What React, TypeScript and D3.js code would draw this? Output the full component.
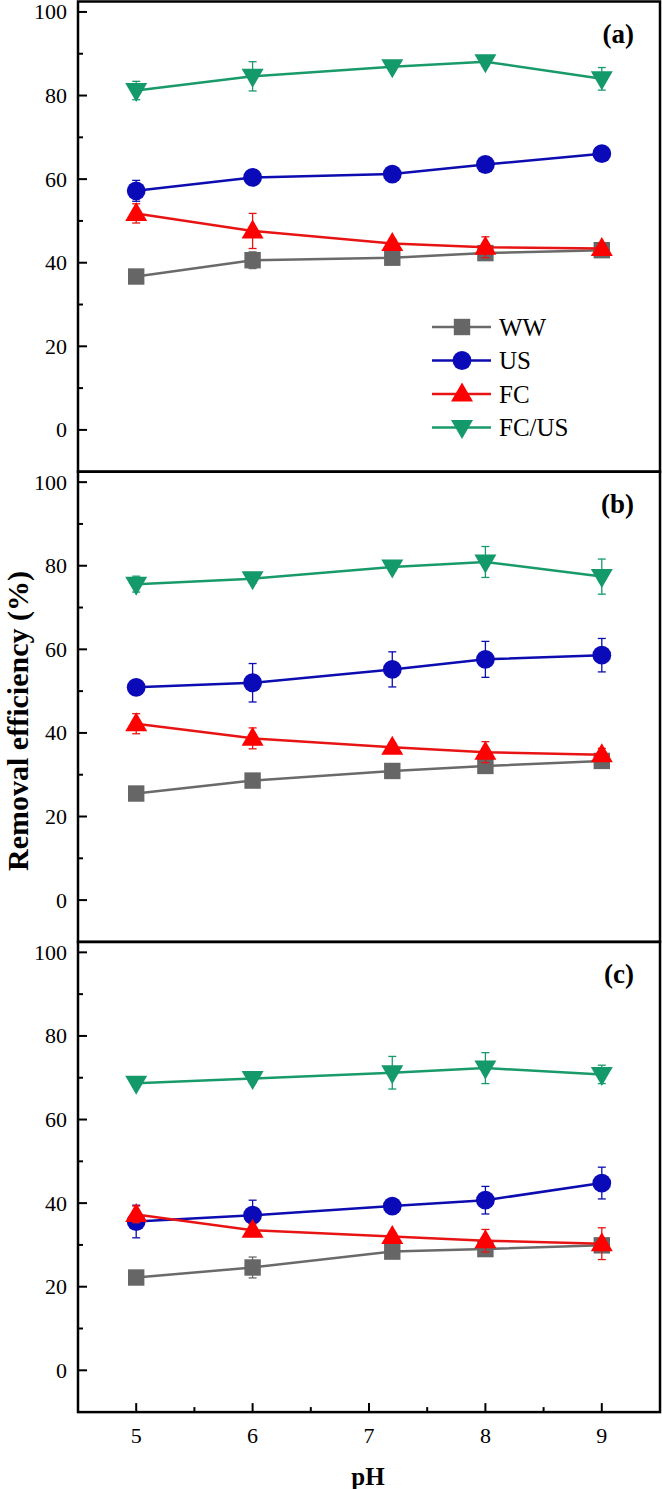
import React from "react";
import * as d3 from "d3";

const PH = [5, 6, 7.2, 8, 9];
const SERIES_NAMES = ["WW", "US", "FC", "FC/US"];
const PANEL_LABELS = ["(a)", "(b)", "(c)"];
const Y_TICKS = [0, 20, 40, 60, 80, 100];
const Y_MINOR = [10, 30, 50, 70, 90];
const X_TICKS = [5, 6, 7, 8, 9];
const X_MINOR = [5.5, 6.5, 7.5, 8.5];

// Panel (a)
const WW_A = [36.7, 40.6, 41.2, 42.3, 43.0];
const US_A = [57.2, 60.4, 61.2, 63.5, 66.1];
const FC_A = [51.8, 47.6, 44.6, 43.7, 43.4];
const FCUS_A = [81.2, 84.6, 86.9, 88.1, 84.0];
const WW_A_ERR = [1.0, 2.0, 1.0, 1.5, 1.0];
const US_A_ERR = [2.5, 1.0, 1.0, 1.0, 1.0];
const FC_A_ERR = [2.3, 4.2, 1.0, 2.5, 1.0];
const FCUS_A_ERR = [2.2, 3.5, 0.8, 1.0, 2.7];

// Panel (b)
const WW_B = [25.5, 28.6, 30.9, 32.1, 33.3];
const US_B = [50.9, 52.0, 55.2, 57.6, 58.6];
const FC_B = [42.2, 38.7, 36.6, 35.4, 34.8];
const FCUS_B = [75.6, 76.9, 79.7, 80.9, 77.4];
const WW_B_ERR = [1.0, 1.0, 1.0, 1.5, 1.0];
const US_B_ERR = [1.0, 4.6, 4.2, 4.3, 4.0];
const FC_B_ERR = [2.4, 2.5, 1.0, 2.5, 1.5];
const FCUS_B_ERR = [1.9, 1.0, 1.0, 3.7, 4.2];

// Panel (c)
const WW_C = [22.2, 24.6, 28.4, 29.0, 29.9];
const US_C = [35.6, 37.1, 39.3, 40.7, 44.8];
const FC_C = [37.3, 33.5, 32.0, 31.0, 30.3];
const FCUS_C = [68.7, 69.8, 71.2, 72.3, 70.8];
const WW_C_ERR = [1.0, 2.5, 1.0, 1.5, 1.0];
const US_C_ERR = [3.9, 3.6, 1.0, 3.3, 3.8];
const FC_C_ERR = [2.0, 1.5, 1.0, 2.7, 3.8];
const FCUS_C_ERR = [1.0, 1.0, 3.9, 3.7, 2.2];

const PANELS = [
  { vals: [WW_A, US_A, FC_A, FCUS_A], errs: [WW_A_ERR, US_A_ERR, FC_A_ERR, FCUS_A_ERR] },
  { vals: [WW_B, US_B, FC_B, FCUS_B], errs: [WW_B_ERR, US_B_ERR, FC_B_ERR, FCUS_B_ERR] },
  { vals: [WW_C, US_C, FC_C, FCUS_C], errs: [WW_C_ERR, US_C_ERR, FC_C_ERR, FCUS_C_ERR] },
];

const LINE_COLORS = ["#6a6a6a", "#0c0cb0", "#e81414", "#199a6a"];
const MARK_COLORS = ["#666666", "#0a0ab8", "#ff0000", "#14996a"];
const MARKERS = ["square", "circle", "up", "down"];

const W = 662;
const H = 1489;
const LEFT = 78;
const RIGHT = 660;
const TOP0 = 1.5;
const PANEL_H = 470.2;
const FONT = "Liberation Serif, Times New Roman, serif";

function Marker({ kind, x, y, color }: { kind: string; x: number; y: number; color: string }) {
  if (kind === "square") return <rect x={x - 8.2} y={y - 8.2} width={16.4} height={16.4} fill={color} />;
  if (kind === "circle") return <circle cx={x} cy={y} r={9.4} fill={color} />;
  if (kind === "up")
    return <path d={`M${x},${y - 11.5} L${x + 11},${y + 7.5} L${x - 11},${y + 7.5} Z`} fill={color} />;
  return <path d={`M${x},${y + 11.5} L${x + 11},${y - 7.5} L${x - 11},${y - 7.5} Z`} fill={color} />;
}

export default function App() {
  const x = d3.scaleLinear().domain([4.5, 9.5]).range([LEFT, RIGHT]);
  return (
    <svg
      width={W}
      height={H}
      style={{ position: "absolute", left: 0, top: 0, background: "#fff" }}
      fontFamily={FONT}
    >
      <rect x={0} y={0} width={W} height={H} fill="#fff" />
      {PANELS.map((p, pi) => {
        const top = TOP0 + pi * PANEL_H;
        const y = d3.scaleLinear().domain([-10, 102.5]).range([top + PANEL_H, top]);
        const line = d3
          .line<number>()
          .x((_, i) => x(PH[i]))
          .y((d) => y(d));
        return (
          <g key={pi}>
            {Y_TICKS.map((t) => (
              <g key={"yt" + t}>
                <line x1={LEFT} x2={LEFT + 9} y1={y(t)} y2={y(t)} stroke="#000" strokeWidth={2} />
                <text x={67} y={y(t)} dy="0.34em" textAnchor="end" fontSize={22}>
                  {t}
                </text>
              </g>
            ))}
            {Y_MINOR.map((t) => (
              <line key={"ym" + t} x1={LEFT} x2={LEFT + 5} y1={y(t)} y2={y(t)} stroke="#000" strokeWidth={2} />
            ))}
            {p.vals.map((vals, si) => (
              <g key={"s" + si}>
                <path d={line(vals) || ""} fill="none" stroke={LINE_COLORS[si]} strokeWidth={2.5} />
                {vals.map((v, i) => {
                  const e = p.errs[si][i];
                  const cx = x(PH[i]);
                  return (
                    <g key={"e" + i} stroke={LINE_COLORS[si]} strokeWidth={1.3}>
                      <line x1={cx} x2={cx} y1={y(v - e)} y2={y(v + e)} />
                      <line x1={cx - 4} x2={cx + 4} y1={y(v + e)} y2={y(v + e)} />
                      <line x1={cx - 4} x2={cx + 4} y1={y(v - e)} y2={y(v - e)} />
                    </g>
                  );
                })}
                {vals.map((v, i) => (
                  <Marker key={"m" + i} kind={MARKERS[si]} x={x(PH[i])} y={y(v)} color={MARK_COLORS[si]} />
                ))}
              </g>
            ))}
            <rect
              x={LEFT}
              y={top}
              width={RIGHT - LEFT}
              height={PANEL_H}
              fill="none"
              stroke="#000"
              strokeWidth={2.5}
            />
            <text x={634} y={top + 41} textAnchor="end" fontSize={27} fontWeight="bold">
              {PANEL_LABELS[pi]}
            </text>
            {pi === 0 &&
              SERIES_NAMES.map((name, si) => {
                const ly = 327 + si * 33.5;
                return (
                  <g key={"lg" + si}>
                    <line x1={432} x2={491} y1={ly} y2={ly} stroke={LINE_COLORS[si]} strokeWidth={2.5} />
                    <Marker kind={MARKERS[si]} x={462} y={ly} color={MARK_COLORS[si]} />
                    <text x={499} y={ly} dy="0.34em" fontSize={25}>
                      {name}
                    </text>
                  </g>
                );
              })}
            {pi === 2 && (
              <g>
                {X_TICKS.map((t) => (
                  <g key={"xt" + t}>
                    <line
                      x1={x(t)}
                      x2={x(t)}
                      y1={top + PANEL_H}
                      y2={top + PANEL_H - 9}
                      stroke="#000"
                      strokeWidth={2}
                    />
                    <text x={x(t)} y={1443} textAnchor="middle" fontSize={22}>
                      {t}
                    </text>
                  </g>
                ))}
                {X_MINOR.map((t) => (
                  <line
                    key={"xm" + t}
                    x1={x(t)}
                    x2={x(t)}
                    y1={top + PANEL_H}
                    y2={top + PANEL_H - 5}
                    stroke="#000"
                    strokeWidth={2}
                  />
                ))}
              </g>
            )}
          </g>
        );
      })}
      <text
        transform={`translate(28, 721) rotate(-90)`}
        textAnchor="middle"
        fontSize={30}
        fontWeight="bold"
      >
        Removal efficiency (%)
      </text>
      <text x={368} y={1485} textAnchor="middle" fontSize={25} fontWeight="bold">
        pH
      </text>
    </svg>
  );
}
